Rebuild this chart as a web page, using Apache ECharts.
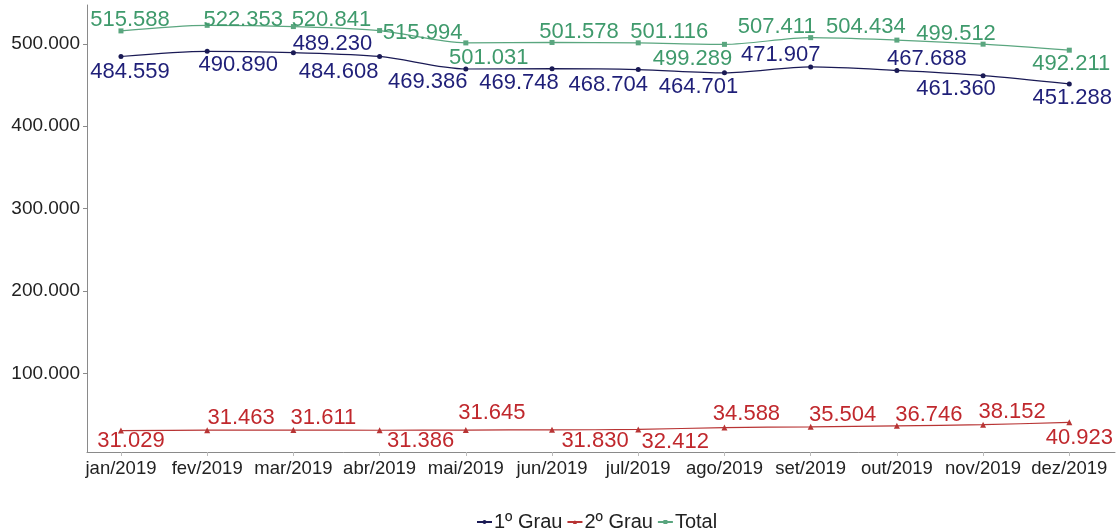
<!DOCTYPE html>
<html>
<head>
<meta charset="utf-8">
<style>
  html, body { margin: 0; padding: 0; background: #fff; }
  #chart { width: 1117px; height: 529px; }
</style>
<script src="https://cdn.jsdelivr.net/npm/echarts@6/dist/echarts.min.js"></script>
</head>
<body>
<div id="chart"></div>
<script>
const months = ['jan/2019', 'fev/2019', 'mar/2019', 'abr/2019', 'mai/2019', 'jun/2019',
  'jul/2019', 'ago/2019', 'set/2019', 'out/2019', 'nov/2019', 'dez/2019'];
const primeiroGrau = [484559, 490890, 489230, 484608, 469386, 469748, 468704, 464701, 471907, 467688, 461360, 451288];
const segundoGrau = [31029, 31463, 31611, 31386, 31645, 31830, 32412, 34588, 35504, 36746, 38152, 40923];
const total = [515588, 522353, 520841, 515994, 501031, 501578, 501116, 499289, 507411, 504434, 499512, 492211];
const yTicks = [100000, 200000, 300000, 400000, 500000];
const monthIdx = months.map((m, i) => i);

// where each data label sits relative to its point (dx, dy)
const offTotal = [[9, -11], [36, -5], [38, -7], [43, 2], [23, 15], [27, -11], [31, -11], [-32, 15], [-34, -11], [-31, -13], [-27, -10], [2, 14]];
const off1 = [[9, 15], [31, 14], [39, -9], [-41, 15], [-38, 13], [-33, 14], [-30, 15], [-26, 14], [-30, -12], [30, -11], [-27, 13], [3, 14]];
const off2 = [[10, 10], [34, -12], [30, -12], [41, 11], [26, -17], [43, 11], [37, 13], [22, -14], [32, -12], [32, -11], [29, -13], [10, 16]];

const fmt = v => String(v).replace(/\B(?=(\d{3})+(?!\d))/g, '.');

const withLabels = (values, offsets) => values.map((v, i) => ({
  value: [i, v],
  label: { offset: offsets[i] }
}));

const mkSeries = (name, values, offsets, lineColor, textColor, symbol, size) => ({
  name: name,
  type: 'line',
  smooth: 0.3,
  symbol: symbol,
  symbolSize: size,
  lineStyle: { color: lineColor, width: 1.2 },
  itemStyle: { color: lineColor },
  label: {
    show: true,
    position: 'inside',
    color: textColor,
    fontSize: 22,
    fontFamily: 'Liberation Sans',
    formatter: p => fmt(p.value[1])
  },
  data: withLabels(values, offsets)
});

const chart = echarts.init(document.getElementById('chart'));
chart.setOption({
  animation: false,
  backgroundColor: '#fff',
  grid: { left: 87, right: 2, top: 5, bottom: 77, containLabel: false },
  xAxis: {
    type: 'value',
    min: -0.394,
    max: 11.53,
    splitLine: { show: false },
    axisLine: { show: true, onZero: false, lineStyle: { color: '#8a8a8a', width: 1 } },
    axisTick: { show: true, length: 4, customValues: monthIdx, lineStyle: { color: '#bbb' } },
    axisLabel: {
      customValues: monthIdx,
      margin: 7,
      color: '#222',
      fontSize: 18.5,
      fontFamily: 'Liberation Sans',
      formatter: v => months[Math.round(v)]
    }
  },
  yAxis: {
    type: 'value',
    min: 5000,
    max: 547000,
    splitLine: { show: false },
    axisLine: { show: true, onZero: false, lineStyle: { color: '#8a8a8a', width: 1 } },
    axisTick: { show: true, length: 4, customValues: yTicks, lineStyle: { color: '#8a8a8a' } },
    axisLabel: {
      customValues: yTicks,
      margin: 7,
      color: '#222',
      fontSize: 19,
      fontFamily: 'Liberation Sans',
      formatter: v => fmt(v)
    }
  },
  legend: {
    left: 471,
    top: 507,
    itemWidth: 15,
    itemHeight: 5,
    itemGap: 4,
    textStyle: { color: '#222', fontSize: 20, fontFamily: 'Liberation Sans', padding: [0, 0, 0, -3] },
    data: ['1º Grau', '2º Grau', 'Total']
  },
  series: [
    mkSeries('1º Grau', primeiroGrau, off1, '#1a1a55', '#1f1f78', 'circle', 5),
    mkSeries('2º Grau', segundoGrau, off2, '#b83434', '#c0282d', 'triangle', 6),
    mkSeries('Total', total, offTotal, '#5aa67f', '#3f9a6c', 'rect', 5)
  ]
});
</script>
</body>
</html>
